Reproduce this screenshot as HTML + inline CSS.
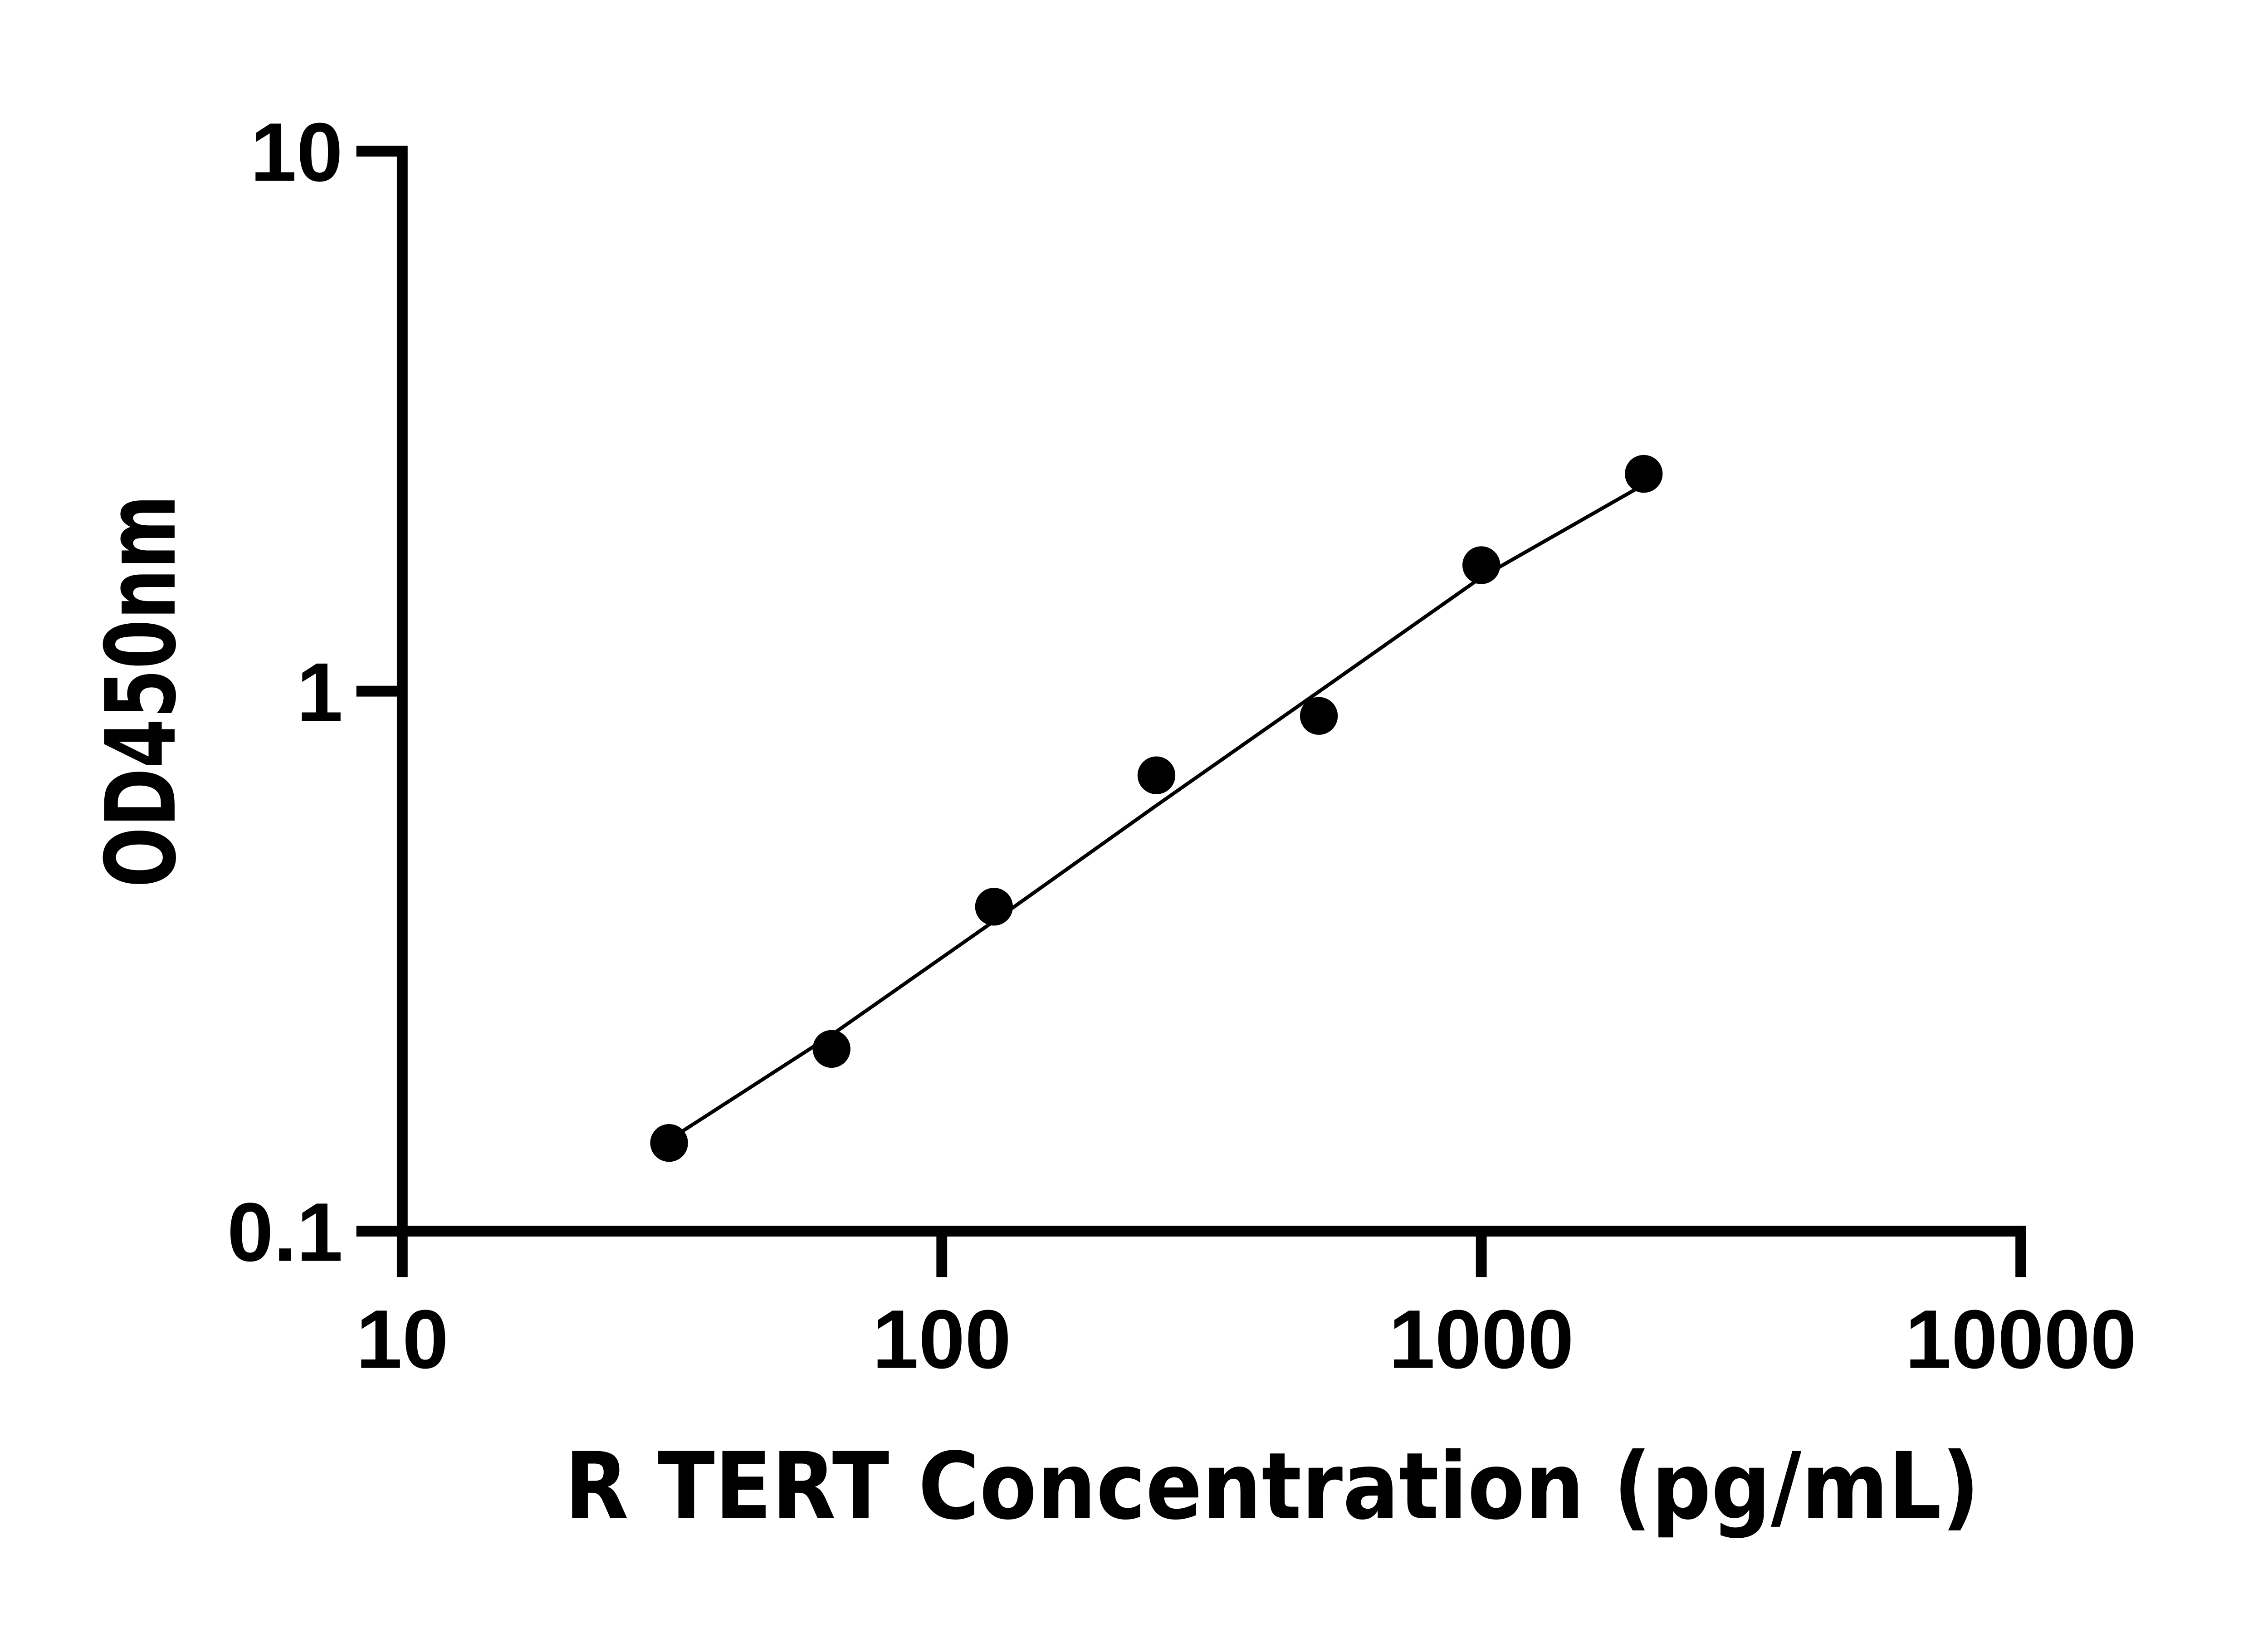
<!DOCTYPE html>
<html><head><meta charset="utf-8"><style>html,body{margin:0;padding:0;background:#fff}svg{display:block}</style></head>
<body>
<svg width="5046" height="3600" viewBox="0 0 5046 3600" xmlns="http://www.w3.org/2000/svg">
<rect width="5046" height="3600" fill="#fff"/>
<g transform="scale(0.992)">
<g stroke="#000" stroke-width="24" fill="none" stroke-linecap="butt">
<polyline points="792,336 894,336 894,2736 4503,2736"/>
<line x1="792" y1="1536" x2="894" y2="1536"/>
<line x1="792" y1="2736" x2="894" y2="2736"/>
<line x1="894" y1="2736" x2="894" y2="2838"/>
<line x1="2093" y1="2736" x2="2093" y2="2838"/>
<line x1="3292" y1="2736" x2="3292" y2="2838"/>
<line x1="4491" y1="2724" x2="4491" y2="2838"/>
</g>
<polyline points="1487,2533 1848,2300 2209,2047 2570,1790 2931,1537 3292,1283 3653,1077" stroke="#000" stroke-width="8" fill="none"/>
<g fill="#000">
<circle cx="1487" cy="2540" r="42"/>
<circle cx="1848" cy="2331" r="42"/>
<circle cx="2209" cy="2015" r="42"/>
<circle cx="2570" cy="1723" r="42"/>
<circle cx="2931" cy="1591" r="42"/>
<circle cx="3292" cy="1256" r="42"/>
<circle cx="3653" cy="1053" r="42"/>
</g>
<g font-family="'Liberation Sans', Arial, sans-serif" font-weight="bold" font-size="185" fill="#000">
<text x="762" y="402" text-anchor="end">10</text>
<text x="762" y="1602" text-anchor="end">1</text>
<text x="762" y="2802" text-anchor="end">0.1</text>
<text x="894" y="3040" text-anchor="middle">10</text>
<text x="2093" y="3040" text-anchor="middle">100</text>
<text x="3292" y="3040" text-anchor="middle">1000</text>
<text x="4491" y="3040" text-anchor="middle">10000</text>
</g>
<text x="2827" y="3374" text-anchor="middle" font-family="'DejaVu Sans', sans-serif" font-weight="bold" font-size="205" textLength="3145" lengthAdjust="spacingAndGlyphs">R TERT Concentration (pg/mL)</text>
<text transform="translate(388,1536) rotate(-90)" text-anchor="middle" font-family="'DejaVu Sans', sans-serif" font-weight="bold" font-size="215" textLength="873" lengthAdjust="spacingAndGlyphs">OD450nm</text>
</g>
</svg>
</body></html>
